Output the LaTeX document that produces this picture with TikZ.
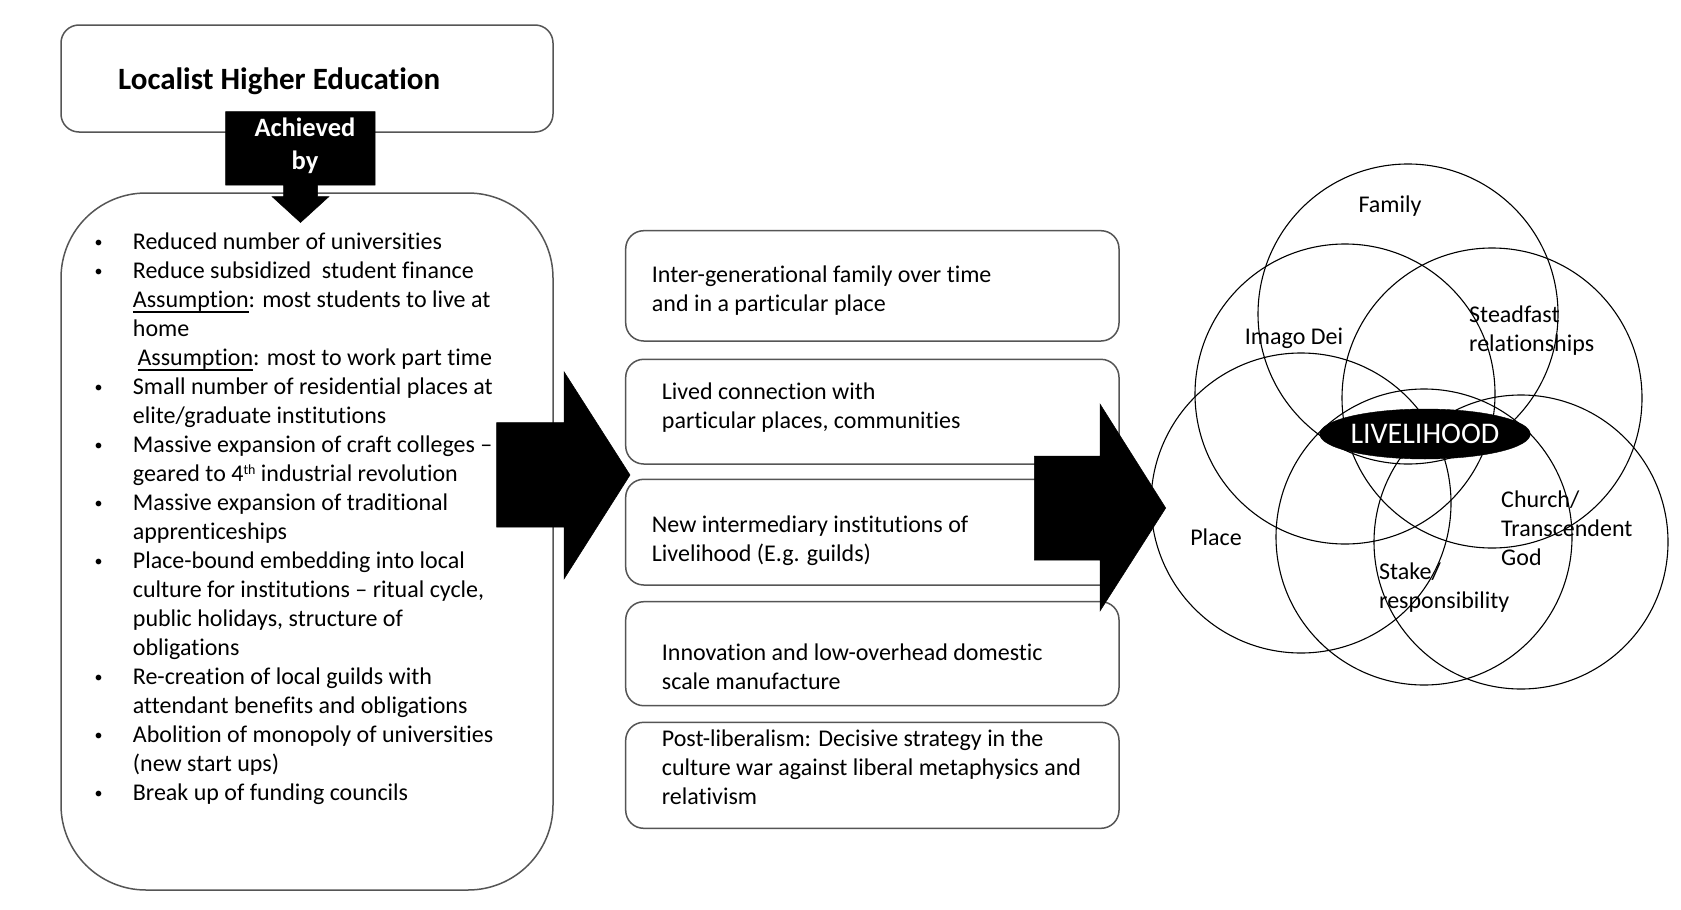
\documentclass[tikz,border=0pt]{standalone}
\usepackage{fontspec}
\setmainfont{Carlito}[Ligatures={NoCommon}]
\usetikzlibrary{shapes.geometric}
\definecolor{boxgray}{RGB}{85,85,85}
\newcommand\myul[1]{\leavevmode\setbox0\hbox{#1}\rlap{\rule[-5pt]{\wd0}{1.6pt}}\box0}
\newcommand\lbul{\makebox[38.2pt][l]{\raisebox{2pt}{\fontsize{16}{16}\selectfont •}}}
\newcommand\lind{\hspace*{38.2pt}}
\newcommand\supth{\raisebox{7pt}{\fontsize{14}{14}\selectfont th}}
\begin{document}
\begin{tikzpicture}[x=1pt,y=-1pt,
  box/.style={draw=boxgray, line width=1.5pt, rounded corners=18pt, inner sep=0pt},
  circ/.style={draw=black, line width=1.1pt, circle, minimum size=300pt, inner sep=0pt},
  body/.style={inner sep=0pt, align=left, font=\fontsize{24}{29}\selectfont},
  lbl/.style={inner sep=0pt, align=left, font=\fontsize{24}{29}\selectfont},
  blackshape/.style={fill=black, draw=black, line width=0.5pt}]
\useasboundingbox (0,0) rectangle (1681,910);
\fill[white] (0,0) rectangle (1681,910);

% left column boxes
\node[box, minimum width=492pt, minimum height=107pt] (topbox) at (307,78.5) {};
\node[box, rounded corners=85pt, minimum width=492pt, minimum height=697pt] (listbox) at (307,541.5) {};

% middle boxes
\node[box, minimum width=493.3pt, minimum height=110.3pt] (b1) at (872.35,285.85) {};
\node[box, minimum width=493.3pt, minimum height=104.7pt] (b2) at (872.35,411.65) {};
\node[box, minimum width=493.3pt, minimum height=105.7pt] (b3) at (872.35,532.15) {};
\node[box, minimum width=493.3pt, minimum height=104pt] (b4) at (872.35,653.7) {};
\node[box, minimum width=493.3pt, minimum height=106pt] (b5) at (872.35,775.3) {};

% circles
\node[circ] (cfam) at (1408,314) {};
\node[circ] (cimago) at (1345,394) {};
\node[circ] (csteady) at (1492,398) {};
\node[circ] (cplace) at (1301,503) {};
\node[circ, minimum size=296pt] (cstake) at (1424,537) {};
\node[circ, minimum size=294pt] (cchurch) at (1521,542) {};

\node[ellipse, fill=black, draw=black, minimum width=210pt, minimum height=50pt, inner sep=0pt,
  text=white, font=\fontsize{30}{36}\selectfont] (live) at (1425,434) {LIVELIHOOD};

% Achieved by callout
\fill[blackshape] (225.7,111.7) -- (375,111.7) -- (375,185) -- (317.5,185) -- (317.5,196.5)
  -- (329,196.5) -- (300.5,222.5) -- (272,196.5) -- (283.5,196.5) -- (283.5,185)
  -- (225.7,185) -- cycle;
\node[anchor=north, inner sep=0pt, align=center, text=white, font=\fontsize{26.5}{33}\selectfont\bfseries]
  (ach) at (305,116.7) {\rule{0pt}{20pt}Achieved\\by};

% big arrows
\fill[blackshape] (496.7,422.7) -- (564,422.7) -- (564,371.7) -- (630,475) -- (564,579)
  -- (564,527) -- (496.7,527) -- cycle;
\fill[blackshape] (1034.3,456) -- (1100,456) -- (1100,404) -- (1165.7,508) -- (1100,611)
  -- (1100,560) -- (1034.3,560) -- cycle;

% texts
\node[anchor=base west, inner sep=0pt, font=\fontsize{31}{36}\selectfont\bfseries] (title) at (118,89) {Localist Higher Education};

\node[body, anchor=north west] (list) at (94.5,229.3) {\rule{0pt}{20pt}\lbul Reduced number of universities\\
\lbul Reduce subsidized\ \ student finance\\
\lind\myul{Assumption}: most students to live at\\
\lind home\\
\hspace*{42.8pt}\myul{Assumption}: most to work part time\\
\lbul Small number of residential places at\\
\lind elite/graduate institutions\\
\lbul Massive expansion of craft colleges –\\
\lind geared to 4\supth{} industrial revolution\\
\lbul Massive expansion of traditional\\
\lind apprenticeships\\
\lbul Place-bound embedding into local\\
\lind culture for institutions – ritual cycle,\\
\lind public holidays, structure of\\
\lind obligations\\
\lbul Re-creation of local guilds with\\
\lind attendant benefits and obligations\\
\lbul Abolition of monopoly of universities\\
\lind (new start ups)\\
\lbul Break up of funding councils};

\node[body, anchor=north west] (t1) at (651.7,262) {\rule{0pt}{20pt}Inter-generational family over time\\and in a particular place};
\node[body, anchor=north west] (t2) at (661.7,379.6) {\rule{0pt}{20pt}Lived connection with\\particular places, communities};
\node[body, anchor=north west] (t3) at (651.7,512.5) {\rule{0pt}{20pt}New intermediary institutions of\\Livelihood (E.g. guilds)};
\node[body, anchor=north west] (t4) at (661.7,640.5) {\rule{0pt}{20pt}Innovation and low-overhead domestic\\scale manufacture};
\node[body, anchor=north west] (t5) at (661.7,726) {\rule{0pt}{20pt}Post-liberalism: Decisive strategy in the\\culture war against liberal metaphysics and\\relativism};

\node[lbl] (lfam) at (1390,206) {Family};
\node[lbl] (limago) at (1294,338) {Imago Dei};
\node[lbl, anchor=north west] (lsteady) at (1469,302) {\rule{0pt}{20pt}Steadfast\\relationships};
\node[lbl] (lplace) at (1216,537) {Place};
\node[lbl, anchor=north west] (lchurch) at (1501,487) {\rule{0pt}{20pt}Church/\\Transcendent\\God};
\node[lbl, anchor=north west] (lstake) at (1379,559) {\rule{0pt}{20pt}Stake/\\responsibility};
\end{tikzpicture}
\end{document}
